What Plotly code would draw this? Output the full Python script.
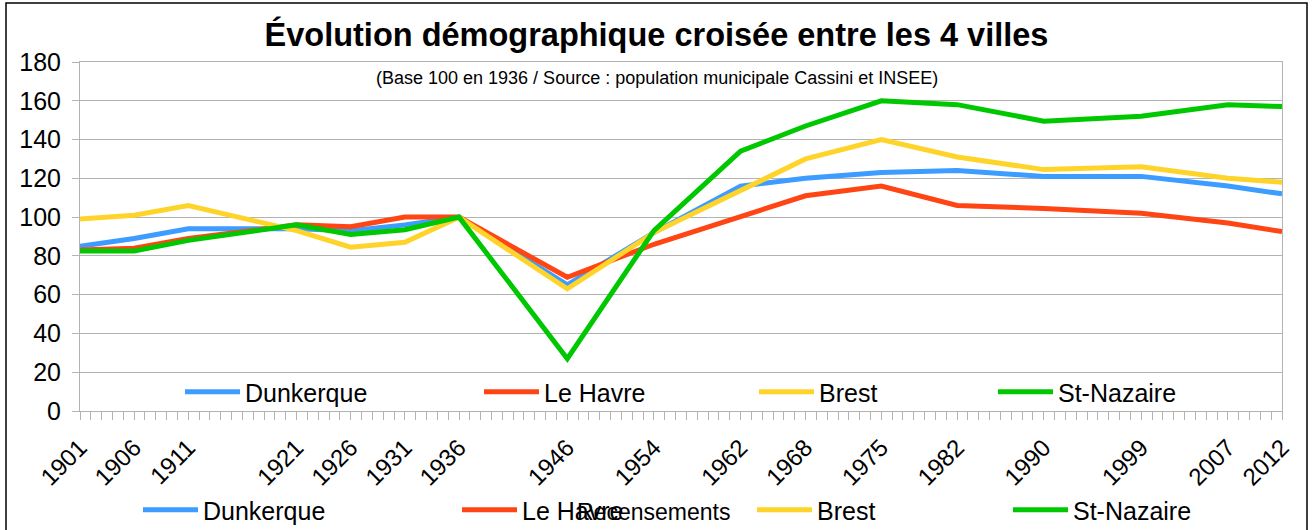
import plotly.graph_objects as go

years = [1901, 1906, 1911, 1921, 1926, 1931, 1936, 1946, 1954, 1962, 1968, 1975, 1982, 1990, 1999, 2007, 2012]
year_labels = [str(y) for y in years]

dunkerque = [85, 89, 94, 94, 93, 96, 100, 65, 92, 116, 120, 123, 124, 121, 121, 116, 112]
le_havre = [83, 84, 89, 96, 95, 100, 100, 69, 86, 100, 111, 116, 106, 104.5, 102, 97, 92.5]
brest = [99, 101, 106, 93, 84.5, 87, 100, 63, 92, 114, 130, 140, 131, 124.5, 126, 120, 118]
st_nazaire = [82.5, 82.5, 88, 96, 91, 93.5, 100, 27, 93, 134, 147, 160, 158, 149.5, 152, 158, 157]

series_names = ["Dunkerque", "Le Havre", "Brest", "St-Nazaire"]
series_values = [dunkerque, le_havre, brest, st_nazaire]
colors = ["#3d9cff", "#ff4514", "#ffd42a", "#00c800"]

title_text = "Évolution démographique croisée entre les 4 villes"
subtitle_text = "(Base 100 en 1936 / Source : population municipale Cassini et INSEE)"
x_title = "Recensements"

W, H = 1313, 530
L, R, T, B = 80, 31, 62, 119
PW, PH = W - L - R, H - T - B


def px(x):
    return (x - L) / PW


def py(y):
    return (H - B - y) / PH


FONT = "Liberation Sans"
fig = go.Figure()

# top legend row (inside plot) and bottom legend row positions (pixels)
top_leg_x = [180, 479, 754, 993]
bot_leg_x = [138, 457, 752, 1008]

for i, (name, vals, col) in enumerate(zip(series_names, series_values, colors)):
    fig.add_trace(go.Scatter(x=years, y=vals, mode="lines", name=name,
                             line=dict(color=col, width=5),
                             legend="legend" if i == 0 else f"legend{i+1}"))
for i, (name, col) in enumerate(zip(series_names, colors)):
    fig.add_trace(go.Scatter(x=[None], y=[None], mode="lines", name=name,
                             line=dict(color=col, width=5),
                             legend=f"legend{i+5}"))

legend_common = dict(orientation="h", bgcolor="rgba(0,0,0,0)", borderwidth=0,
                     font=dict(family=FONT, size=25, color="black"),
                     itemwidth=55, yanchor="middle", xanchor="left")
leg_layout = {}
for i in range(4):
    key = "legend" if i == 0 else f"legend{i+1}"
    leg_layout[key] = dict(legend_common, x=px(top_leg_x[i]), y=py(392))
    leg_layout[f"legend{i+5}"] = dict(legend_common, x=px(bot_leg_x[i]), y=py(510))

fig.update_layout(
    width=W, height=H,
    margin=dict(l=L, r=R, t=T, b=B, autoexpand=False),
    paper_bgcolor="white", plot_bgcolor="white",
    font=dict(family=FONT, color="black"),
    title=dict(text=f"<b>{title_text}</b>", x=0.5, xanchor="center",
               y=1 - 35 / H, yanchor="middle", yref="container",
               font=dict(family=FONT, size=32.5, color="black")),
    showlegend=True,
    **leg_layout,
)

fig.update_xaxes(
    range=[1901, 2012], tickvals=years, ticktext=year_labels,
    tickangle=-45, tickfont=dict(family=FONT, size=24, color="black"),
    ticks="outside", ticklen=8, tickcolor="#b3b3b3", ticklabelstandoff=4,
    minor=dict(dtick=1, tick0=1901, ticks="outside", ticklen=8, tickcolor="#b3b3b3", showgrid=False),
    showgrid=False, zeroline=False, showline=True, mirror=True, linecolor="#b3b3b3", linewidth=1,
)
fig.update_yaxes(
    range=[0, 180], dtick=20, tick0=0,
    tickfont=dict(family=FONT, size=25, color="black"),
    ticks="outside", ticklen=7, tickcolor="#b3b3b3", ticklabelstandoff=6,
    showgrid=True, gridcolor="#b3b3b3", gridwidth=1,
    zeroline=False, showline=True, mirror=True, linecolor="#b3b3b3", linewidth=1,
)

fig.add_annotation(text=subtitle_text, xref="paper", yref="paper",
                   x=px(657), y=py(78), xanchor="center", yanchor="middle",
                   showarrow=False, font=dict(family=FONT, size=18, color="black"))
fig.add_annotation(text=x_title, xref="paper", yref="paper",
                   x=px(653), y=py(512), xanchor="center", yanchor="middle",
                   showarrow=False, font=dict(family=FONT, size=23, color="black"))

fig.add_shape(type="rect", xref="paper", yref="paper",
              x0=px(6), x1=px(1307), y0=py(560), y1=py(3),
              line=dict(color="black", width=1.5), fillcolor="rgba(0,0,0,0)", layer="above")

fig.write_html("out.html", config={"displayModeBar": False},
               post_script="document.body.style.margin='0';")
